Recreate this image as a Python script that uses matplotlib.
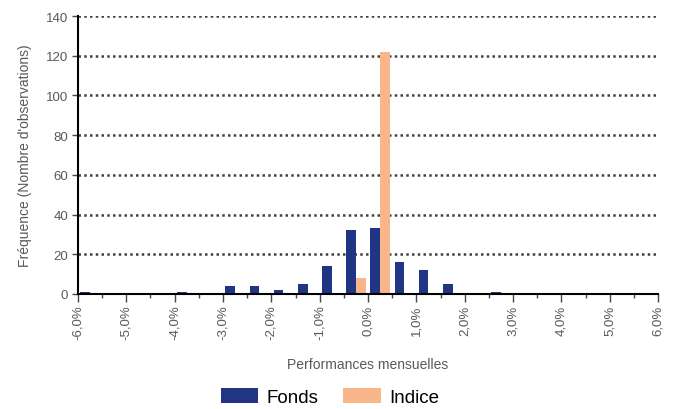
import numpy as np
import matplotlib.pyplot as plt
from matplotlib.ticker import MultipleLocator, FuncFormatter

# Data: histogram of monthly returns, bins of 0.5% from -6% to 6%
bin_left = np.arange(-6.0, 6.0, 0.5)
fonds = [1, 0, 0, 0, 1, 0, 4, 4, 2, 5, 14, 32,
         33, 16, 12, 5, 0, 1, 0, 0, 0, 0, 0, 0]
indice = [0, 0, 0, 0, 0, 0, 0, 0, 0, 0, 0, 8,
          122, 0, 0, 0, 0, 0, 0, 0, 0, 0, 0, 0]

navy = '#213585'
peach = '#F8B68A'
grey = '#595959'

plt.rcParams['font.family'] = ['Liberation Sans', 'DejaVu Sans']

fig = plt.figure(figsize=(6.77, 4.10), dpi=100)
ax = fig.add_axes([0.1152, 0.2805, 0.8568, 0.678])

centers = bin_left + 0.25
w = 0.2
ax.bar(centers - w / 2, fonds, width=w, color=navy, label='Fonds', zorder=3)
ax.bar(centers + w / 2, indice, width=w, color=peach, label='Indice', zorder=3)

ax.set_xlim(-6, 6)
ax.set_ylim(0, 140)
ax.yaxis.set_major_locator(MultipleLocator(20))
ax.xaxis.set_major_locator(MultipleLocator(1))
ax.xaxis.set_minor_locator(MultipleLocator(0.5))
ax.xaxis.set_major_formatter(FuncFormatter(lambda v, p: f'{v:.1f}%'.replace('.', ',')))

# Dotted gridlines
for y in range(20, 141, 20):
    ax.axhline(y, color='#404040', linestyle=(0, (1, 1.3)), linewidth=1.8, zorder=1)

for s in ['top', 'right']:
    ax.spines[s].set_visible(False)
for s in ['left', 'bottom']:
    ax.spines[s].set_color('black')
    ax.spines[s].set_linewidth(1.5)
    ax.spines[s].set_zorder(4)

ax.tick_params(axis='x', which='major', length=6, width=1, color='#444444',
               labelsize=9.5, labelcolor=grey, labelrotation=90, pad=1.5)
ax.tick_params(axis='x', which='minor', length=3, width=1, color='#444444')
ax.tick_params(axis='y', length=4, width=1, color='#444444',
               labelsize=9.5, labelcolor=grey, pad=3)

ax.set_ylabel("Fréquence (Nombre d'observations)", fontsize=10, color=grey, labelpad=10)
ax.set_xlabel('Performances mensuelles', fontsize=10, color=grey, labelpad=13)

fig.legend(loc='center', bbox_to_anchor=(0.4875, 0.03), ncol=2, frameon=False,
           fontsize=13.5, handlelength=2.0, handleheight=0.85, columnspacing=1.3,
           handletextpad=0.45)

fig.savefig('out.png', dpi=100)
